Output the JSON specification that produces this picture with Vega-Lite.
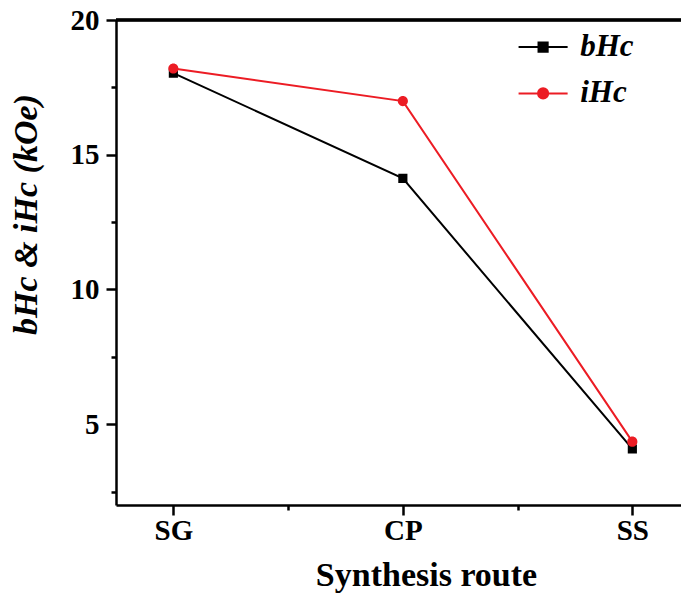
{
  "$schema": "https://vega.github.io/schema/vega-lite/v6.json",
  "autosize": "none",
  "width": 565,
  "height": 485,
  "padding": {"left": 116, "top": 20, "right": 0, "bottom": 95},
  "background": "white",
  "config": {
    "view": {"stroke": null},
    "font": "Liberation Serif",
    "axis": {
      "domainColor": "black",
      "domainWidth": 2.5,
      "tickColor": "black",
      "tickWidth": 2.5,
      "grid": false,
      "labelColor": "black",
      "labelFont": "Liberation Serif",
      "labelFontWeight": "bold",
      "labelFontSize": 29,
      "labelFlush": false,
      "labelOverlap": false,
      "titleColor": "black",
      "titleFont": "Liberation Serif",
      "titleFontWeight": "bold"
    }
  },
  "data": {
    "values": [
      {"route": "SG", "series": "bHc", "value": 18.03},
      {"route": "CP", "series": "bHc", "value": 14.12},
      {"route": "SS", "series": "bHc", "value": 4.08},
      {"route": "SG", "series": "iHc", "value": 18.2},
      {"route": "CP", "series": "iHc", "value": 16.99},
      {"route": "SS", "series": "iHc", "value": 4.35}
    ]
  },
  "transform": [
    {"calculate": "indexof(['SG','CP','SS'], datum.route) + 1", "as": "pos"}
  ],
  "layer": [
    {
      "mark": {"type": "rule", "color": "black", "strokeWidth": 2.5},
      "encoding": {"y": {"datum": 20, "type": "quantitative"}}
    },
    {
      "mark": {"type": "line", "strokeWidth": 2},
      "encoding": {
        "x": {
          "field": "pos",
          "type": "quantitative",
          "scale": {"domain": [0.75, 3.212], "nice": false, "zero": false},
          "axis": {
            "values": [1, 1.5, 2, 2.5, 3],
            "labelExpr": "datum.value === 1 ? 'SG' : datum.value === 2 ? 'CP' : datum.value === 3 ? 'SS' : ''",
            "tickSize": {"condition": {"test": "datum.value % 1 !== 0", "value": 5}, "value": 10},
            "labelPadding": 1,
            "title": "Synthesis route",
            "titleFontSize": 34,
            "titleX": 310,
            "titleY": 80,
            "titleAlign": "center",
            "titleBaseline": "alphabetic"
          }
        },
        "y": {
          "field": "value",
          "type": "quantitative",
          "scale": {"domain": [2, 20], "nice": false, "zero": false},
          "axis": {
            "values": [2.5, 5, 7.5, 10, 12.5, 15, 17.5, 20],
            "labelExpr": "datum.value % 5 === 0 ? format(datum.value, 'd') : ''",
            "tickSize": {"condition": {"test": "datum.value % 5 !== 0", "value": 5}, "value": 10},
            "labelPadding": 7,
            "title": "bHc & iHc (kOe)",
            "titleFontSize": 34,
            "titleFontStyle": "italic",
            "titleAngle": 270,
            "titleX": -80,
            "titleY": 194,
            "titleAlign": "center",
            "titleBaseline": "alphabetic"
          }
        },
        "color": {
          "field": "series",
          "type": "nominal",
          "scale": {"domain": ["bHc", "iHc"], "range": ["#000000", "#ec1c24"]},
          "legend": {
            "orient": "none",
            "legendX": 409.6,
            "legendY": 9.6,
            "title": null,
            "padding": 0,
            "labelFont": "Liberation Serif",
            "labelFontSize": 31,
            "labelFontStyle": "italic",
            "labelFontWeight": "bold",
            "labelColor": "black",
            "labelOffset": 19.6,
            "rowPadding": 13.3,
            "symbolSize": 1069,
            "symbolStrokeWidth": 2,
            "encode": {
              "symbols": {
                "update": {
                  "stroke": {"signal": "scale('color', datum.value)"},
                  "strokeWidth": {"value": 2},
                  "opacity": {"value": 1}
                }
              }
            }
          }
        }
      }
    },
    {
      "mark": {"type": "point", "filled": true, "size": 1069, "opacity": 1, "strokeWidth": 0},
      "encoding": {
        "x": {"field": "pos", "type": "quantitative"},
        "y": {"field": "value", "type": "quantitative"},
        "color": {"field": "series", "type": "nominal"},
        "shape": {
          "field": "series",
          "type": "nominal",
          "scale": {
            "domain": ["bHc", "iHc"],
            "range": [
              "M-1.5,0H1.5M-0.28,-0.28H0.28V0.28H-0.28Z",
              "M-1.5,0H1.5M0.31,0A0.31,0.31,0,1,1,-0.31,0A0.31,0.31,0,1,1,0.31,0Z"
            ]
          }
        }
      }
    }
  ]
}
